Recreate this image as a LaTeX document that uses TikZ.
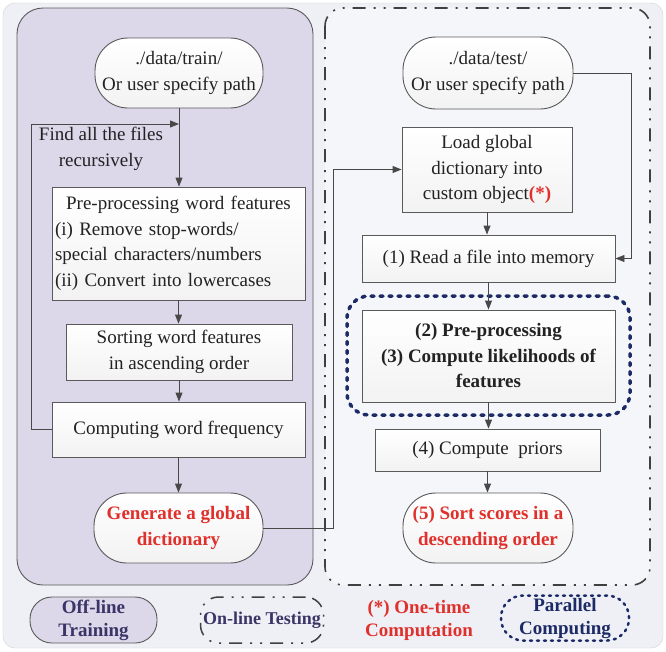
\documentclass[tikz,border=0pt]{standalone}
\usepackage{fontspec}
\setmainfont{Liberation Serif}
\usetikzlibrary{arrows.meta}

\definecolor{bgc}{HTML}{EEF0F5}
\definecolor{lav}{HTML}{DCD7E9}
\definecolor{rpanel}{HTML}{F5F6FA}
\definecolor{redtxt}{HTML}{E0302C}
\definecolor{navyc}{HTML}{1C2A66}
\definecolor{edgec}{HTML}{5A5A5A}
\definecolor{legtxt}{HTML}{3A3566}
\definecolor{txtc}{HTML}{222222}

\begin{document}
\begin{tikzpicture}[x=1pt,y=-1pt,
  font=\fontsize{19}{25.5}\selectfont,
  box/.style={draw=edgec, line width=0.9pt, top color=white, bottom color=black!5, inner sep=0pt, align=center, text=txtc},
  term/.style={box, rounded corners=33pt},
  arr/.style={draw=edgec!80!black, line width=0.9pt, -{Triangle[length=9pt,width=7pt]}},
  legfont/.style={font=\fontsize{19}{23}\selectfont\bfseries},
  dashdotdot/.style={dash pattern=on 13pt off 8pt on 2pt off 8pt on 2pt off 8pt},
]
\useasboundingbox (0,0) rectangle (666,651);
\fill[white] (0,0) rectangle (666,651);
\draw[gray!35, fill=bgc, rounded corners=12pt] (3,3) rectangle (663,648);

% panels
\draw[edgec, line width=0.9pt, fill=lav, rounded corners=26pt] (17,8) rectangle (313,585);
\draw[black!75, line width=1.6pt, dashdotdot, fill=rpanel, rounded corners=18pt] (325,8) rectangle (650,585);

% parallel region
\node[draw=navyc, line width=3.5pt, line cap=round, dash pattern=on 3pt off 6pt, rounded corners=22pt,
      minimum width=283pt, minimum height=119pt, inner sep=0pt] (par) at (488.5,355.5) {};

% left column
\node[term, minimum width=168pt, minimum height=70pt] (train) at (179,73) {./data/train/\\Or user specify path};
\node[align=center, text=txtc, inner sep=0pt] (find) at (101,149) {Find all the files\\recursively};
\node[box, align=left, text width=247pt, inner xsep=3pt, minimum height=113pt] (pre) at (178.5,243.5)
  {\makebox[247pt][c]{Pre-processing word features}\\(i) Remove stop-words/\\special characters/numbers\\(ii) Convert into lowercases};
\node[box, minimum width=226pt, minimum height=56pt] (sortw) at (179,352) {Sorting word features\\in ascending order};
\node[box, minimum width=253pt, minimum height=55pt] (comp) at (178.5,429.5) {Computing word frequency};
\node[term, minimum width=169pt, minimum height=70pt, text=redtxt, font=\fontsize{19}{25.5}\selectfont\bfseries] (gen) at (178.5,528) {Generate a global\\dictionary};

% right column
\node[term, minimum width=170pt, minimum height=72pt] (test) at (488,73) {./data/test/\\Or user specify path};
\node[box, minimum width=170pt, minimum height=85pt] (load) at (487,169.5) {Load global\\dictionary into\\custom object{\color{redtxt}\bfseries(*)}};
\node[box, minimum width=253pt, minimum height=47pt] (read) at (488.5,258.5) {(1) Read a file into memory};
\node[box, minimum width=253pt, minimum height=92pt, font=\fontsize{19}{25.5}\selectfont\bfseries] (pc) at (488.5,356) {(2) Pre-processing\\(3) Compute likelihoods of\\features};
\node[box, minimum width=225pt, minimum height=42pt] (prior) at (487.5,450) {(4) Compute\ \ priors};
\node[term, minimum width=170pt, minimum height=70pt, text=redtxt, font=\fontsize{19}{25.5}\selectfont\bfseries] (sortsc) at (488,528) {(5) Sort scores in a\\descending order};

% connectors left
\coordinate (lj) at (179,124);
\draw[arr] (train.south) -- (train.south |- pre.north);
\draw[arr] (comp.west) -- ++(-20,0) |- (lj);
\draw[arr] (pre.south) -- (pre.south |- sortw.north);
\draw[arr] (sortw.south) -- (sortw.south |- comp.north);
\draw[arr] (comp.south) -- (gen.north);

% connectors right
\draw[arr] (gen.east) -- ++(70,0) |- (load.west);
\draw[arr] (test.east) -- ++(58,0) |- (read.east);
\draw[arr] (load.south) -- (load.south |- read.north);
\draw[arr] (read.south) -- (pc.north);
\draw[arr] (pc.south) -- (pc.south |- prior.north);
\draw[arr] (prior.south) -- (prior.south |- sortsc.north);

% legend
\node[draw=edgec, line width=0.9pt, fill=lav, rounded corners=22pt, minimum width=127pt, minimum height=46pt,
      inner sep=0pt, align=center, text=legtxt, legfont] (offl) at (93.5,620) {Off-line\\Training};
\node[draw=black!75, line width=1.5pt, dashdotdot, rounded corners=18pt, minimum width=123pt, minimum height=46pt,
      inner sep=0pt, align=center, text=legtxt, legfont, font=\fontsize{18}{22}\selectfont\bfseries] (onl) at (262,620) {On-line Testing};
\node[align=center, text=redtxt, legfont, inner sep=0pt] (onetime) at (419,620) {(*) One-time\\Computation};
\node[draw=navyc, line width=2.5pt, line cap=round, dash pattern=on 2pt off 5pt, rounded corners=22pt,
      minimum width=128pt, minimum height=45pt, inner sep=0pt, align=center, text=navyc, legfont] (parl) at (565,618) {Parallel\\Computing};
\end{tikzpicture}
\end{document}
